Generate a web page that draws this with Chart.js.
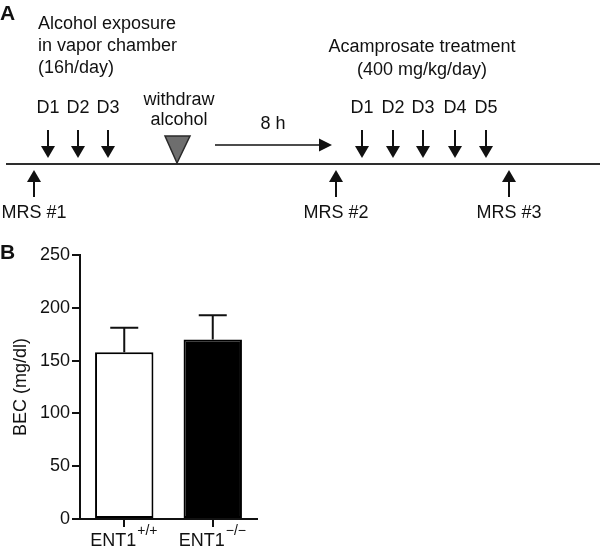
<!DOCTYPE html>
<html>
<head>
<meta charset="utf-8">
<script src="https://cdn.jsdelivr.net/npm/chart.js@4/dist/chart.umd.min.js"></script>
<style>
  html, body { margin: 0; padding: 0; background: #fff; }
  #wrap { position: relative; width: 600px; height: 547px; overflow: hidden; }
  #timeline { position: absolute; left: 0; top: 0; }
  #bars { position: absolute; left: 0; top: 230px; }
</style>
</head>
<body>
<div id="wrap">
  <canvas id="timeline" width="600" height="230"></canvas>
  <canvas id="bars" width="600" height="317"></canvas>
</div>
<script>
// ---------- Panel A: timeline data (positions along the protocol time line) ----------
const exposureDays = ['D1', 'D2', 'D3'];
const exposureDayPos = [48, 78, 108];
const treatmentDays = ['D1', 'D2', 'D3', 'D4', 'D5'];
const treatmentDayPos = [362, 393, 423, 455, 486];
const mrsScans = ['MRS #1', 'MRS #2', 'MRS #3'];
const mrsPos = [34, 336, 509];
const withdrawPos = 177;
const delayStart = 215;
const delayEnd = 332;
const delayLabel = '8 h';
const exposureText = ['Alcohol exposure', 'in vapor chamber', '(16h/day)'];
const treatmentText = ['Acamprosate treatment', '(400 mg/kg/day)'];
const withdrawText = ['withdraw', 'alcohol'];
const timelineStart = 6;
const timelineEnd = 600;

// ---------- Panel B: bar chart data ----------
const genotypes = ['ENT1', 'ENT1'];
const genotypeSup = ['+/+', '\u2212/\u2212'];
const becMean = [158, 170];
const becSem = [23, 23];
const yTicks = [0, 50, 100, 150, 200, 250];

const FONT = "'Liberation Sans', Arial, Helvetica, sans-serif";
const INK = '#111';
Chart.defaults.font.family = FONT;
Chart.defaults.color = INK;

// ---------------- Panel A ----------------
const timelinePlugin = {
  id: 'timelinePlugin',
  afterDatasetsDraw(chart) {
    const { ctx, scales: { x, y } } = chart;
    const X = v => x.getPixelForValue(v);
    const Y = v => y.getPixelForValue(v);
    ctx.save();
    ctx.fillStyle = INK;
    ctx.strokeStyle = INK;

    function downArrow(px) {
      ctx.lineWidth = 2;
      ctx.beginPath();
      ctx.moveTo(px, Y(130));
      ctx.lineTo(px, Y(148));
      ctx.stroke();
      ctx.beginPath();
      ctx.moveTo(px - 7, Y(146));
      ctx.lineTo(px + 7, Y(146));
      ctx.lineTo(px, Y(158));
      ctx.closePath();
      ctx.fill();
    }
    function upArrow(px) {
      ctx.lineWidth = 2;
      ctx.beginPath();
      ctx.moveTo(px, Y(197));
      ctx.lineTo(px, Y(180));
      ctx.stroke();
      ctx.beginPath();
      ctx.moveTo(px - 7, Y(182));
      ctx.lineTo(px + 7, Y(182));
      ctx.lineTo(px, Y(170));
      ctx.closePath();
      ctx.fill();
    }

    ctx.font = '18px ' + FONT;
    ctx.textBaseline = 'middle';
    ctx.textAlign = 'center';
    exposureDays.forEach((d, i) => {
      const px = X(exposureDayPos[i]);
      downArrow(px);
      ctx.fillText(d, px, Y(108));
    });
    treatmentDays.forEach((d, i) => {
      const px = X(treatmentDayPos[i]);
      downArrow(px);
      ctx.fillText(d, px, Y(108));
    });
    mrsScans.forEach((m, i) => {
      const px = X(mrsPos[i]);
      upArrow(px);
      ctx.fillText(m, px, Y(213));
    });

    // withdraw triangle
    const wx = X(withdrawPos);
    ctx.beginPath();
    ctx.moveTo(wx - 12, Y(136));
    ctx.lineTo(wx + 13, Y(136));
    ctx.lineTo(wx, Y(163));
    ctx.closePath();
    ctx.fillStyle = '#6e6e6e';
    ctx.fill();
    ctx.lineWidth = 1.5;
    ctx.strokeStyle = '#2a2a2a';
    ctx.stroke();
    ctx.fillStyle = INK;
    ctx.strokeStyle = INK;
    ctx.fillText(withdrawText[0], wx + 2, Y(100));
    ctx.fillText(withdrawText[1], wx + 2, Y(120));

    // 8 h delay arrow
    ctx.lineWidth = 1.5;
    ctx.beginPath();
    ctx.moveTo(X(delayStart), Y(145));
    ctx.lineTo(X(delayEnd) - 10, Y(145));
    ctx.stroke();
    ctx.beginPath();
    ctx.moveTo(X(delayEnd) - 13, Y(138.5));
    ctx.lineTo(X(delayEnd), Y(145));
    ctx.lineTo(X(delayEnd) - 13, Y(151.5));
    ctx.closePath();
    ctx.fill();
    ctx.fillText(delayLabel, X(273), Y(124));

    // text blocks
    ctx.textAlign = 'left';
    exposureText.forEach((t, i) => ctx.fillText(t, X(38), Y(24 + i * 22)));
    ctx.textAlign = 'center';
    treatmentText.forEach((t, i) => ctx.fillText(t, X(422), Y(47 + i * 23)));

    // panel letter
    ctx.font = 'bold 21px ' + FONT;
    ctx.textAlign = 'left';
    ctx.fillText('A', 0, Y(14));
    ctx.restore();
  }
};

new Chart(document.getElementById('timeline'), {
  type: 'scatter',
  data: {
    datasets: [{
      data: [{ x: timelineStart, y: 164 }, { x: timelineEnd, y: 164 }],
      showLine: true,
      borderColor: '#2e2e2e',
      borderWidth: 2,
      pointRadius: 0,
      clip: false
    }]
  },
  options: {
    responsive: false,
    animation: false,
    devicePixelRatio: 1,
    layout: { padding: 0 },
    plugins: { legend: { display: false }, tooltip: { enabled: false } },
    scales: {
      x: { type: 'linear', min: 0, max: 600, display: false },
      y: { type: 'linear', min: 0, max: 230, reverse: true, display: false }
    }
  },
  plugins: [timelinePlugin]
});

// ---------------- Panel B ----------------
const barExtras = {
  id: 'barExtras',
  afterDatasetsDraw(chart) {
    const { ctx, scales: { x, y } } = chart;
    const meta = chart.getDatasetMeta(0);
    ctx.save();
    ctx.strokeStyle = INK;
    ctx.lineWidth = 2;
    meta.data.forEach((bar, i) => {
      const px = bar.x;
      const top = y.getPixelForValue(becMean[i]);
      const hi = y.getPixelForValue(becMean[i] + becSem[i]);
      ctx.beginPath();
      ctx.moveTo(px, top);
      ctx.lineTo(px, hi);
      ctx.moveTo(px - 14, hi);
      ctx.lineTo(px + 14, hi);
      ctx.stroke();
    });
    ctx.restore();
  },
  afterDraw(chart) {
    const { ctx, scales: { x } } = chart;
    ctx.save();
    ctx.fillStyle = INK;
    ctx.textBaseline = 'alphabetic';
    genotypes.forEach((g, i) => {
      const px = x.getPixelForValue(i);
      ctx.font = '18px ' + FONT;
      const w1 = ctx.measureText(g).width;
      const start = px - 34;
      ctx.textAlign = 'left';
      ctx.fillText(g, start, 316);
      ctx.font = '14px ' + FONT;
      ctx.fillText(genotypeSup[i], start + w1 + 1, 305);
    });
    ctx.font = 'bold 21px ' + FONT;
    ctx.textAlign = 'left';
    ctx.textBaseline = 'middle';
    ctx.fillText('B', 0, 23);
    ctx.restore();
  }
};

new Chart(document.getElementById('bars'), {
  type: 'bar',
  data: {
    labels: genotypes.map((g, i) => g + genotypeSup[i]),
    datasets: [{
      data: becMean,
      backgroundColor: ['#ffffff', '#000000'],
      borderColor: '#000000',
      borderWidth: 2,
      borderSkipped: false,
      barPercentage: 0.66,
      categoryPercentage: 1
    }]
  },
  options: {
    responsive: false,
    animation: false,
    devicePixelRatio: 1,
    layout: { padding: { top: 25, right: 343, left: 0, bottom: 0 } },
    plugins: { legend: { display: false }, tooltip: { enabled: false } },
    scales: {
      x: {
        offset: true,
        grid: { display: true, drawOnChartArea: false, drawTicks: true, tickLength: 8, offset: false, color: INK, lineWidth: 2 },
        border: { display: true, color: INK, width: 2 },
        ticks: { color: 'rgba(0,0,0,0)', font: { size: 18 } },
        afterFit: s => { s.height = 28; }
      },
      y: {
        min: 0,
        max: 250,
        afterBuildTicks: s => { s.ticks = yTicks.map(v => ({ value: v })); },
        ticks: { font: { size: 18 }, color: INK, padding: 2 },
        grid: { display: true, drawOnChartArea: false, drawTicks: true, tickLength: 8, color: INK, lineWidth: 2 },
        border: { display: true, color: INK, width: 2 },
        title: { display: true, text: 'BEC (mg/dl)', font: { size: 18 }, color: INK, padding: { top: 10, bottom: 0 } },
        afterFit: s => { s.width = 80; }
      }
    }
  },
  plugins: [barExtras]
});
</script>
</body>
</html>
